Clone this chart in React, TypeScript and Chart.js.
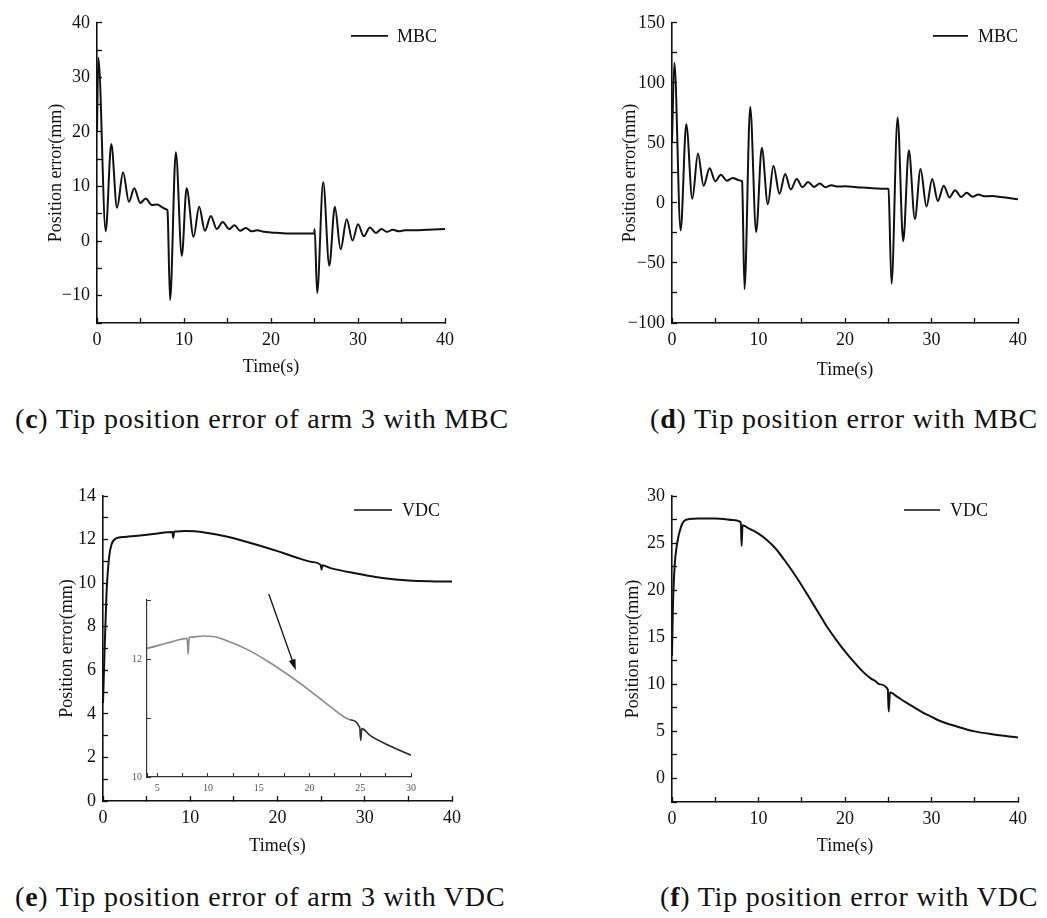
import React, { useEffect, useRef } from 'react';
import { Chart, registerables } from 'chart.js';

Chart.register(...registerables);

const FONT = "'Liberation Serif', 'Times New Roman', Times, serif";
const INK = '#111111';

// ---------- (c) Tip position error of arm 3 with MBC ----------
const cTime = [0, 0.15, 1.0, 1.64, 2.3, 3.0, 3.67, 4.28, 4.97, 5.6, 6.3, 6.9, 7.5, 8.0, 8.1, 8.4, 9.06, 9.75, 10.3, 11.1, 11.74, 12.4, 13.08, 13.77, 14.45, 15.18, 15.8, 16.45, 17.1, 17.8, 18.4, 19.2, 20, 22, 24.95, 25.02, 25.3, 26.0, 26.7, 27.34, 28.0, 28.7, 29.37, 30.0, 30.67, 31.36, 32.05, 32.7, 33.35, 34.0, 34.7, 35.4, 36.5, 38, 40];
const cError = [20, 33.6, 1.8, 17.8, 6.1, 12.6, 7.2, 9.7, 7.0, 7.8, 6.6, 6.7, 6.2, 5.8, 5.6, -10.8, 16.3, -2.7, 9.7, 0.8, 6.3, 1.9, 4.6, 2.2, 3.5, 2.2, 2.9, 1.9, 2.4, 1.8, 2.0, 1.7, 1.6, 1.4, 1.4, 2.2, -9.5, 10.8, -4.5, 6.3, -1.5, 4.0, 0.1, 3.1, 0.9, 2.5, 1.5, 2.2, 1.7, 2.1, 1.8, 2.0, 2.0, 2.1, 2.2];

// ---------- (d) Tip position error with MBC ----------
const dTime = [0, 0.27, 1.0, 1.65, 2.35, 3.0, 3.65, 4.35, 5.0, 5.65, 6.35, 7.0, 7.6, 8.0, 8.1, 8.38, 9.04, 9.73, 10.38, 11.08, 11.73, 12.42, 13.08, 13.73, 14.42, 15.08, 15.73, 16.42, 17.08, 17.77, 18.42, 19.2, 20, 22, 24.95, 25.02, 25.38, 26.08, 26.73, 27.38, 28.08, 28.73, 29.42, 30.08, 30.73, 31.42, 32.08, 32.73, 33.42, 34.08, 34.73, 35.42, 36.1, 37, 38, 40];
const dError = [50, 116.8, -22.9, 65.6, 3.5, 41.1, 14.4, 28.9, 18.0, 23.4, 18.5, 20.7, 19.3, 18.5, 18.0, -71.9, 79.8, -24.2, 46.0, -1.1, 31.0, 7.6, 24.0, 11.2, 19.9, 13.1, 17.4, 13.3, 16.1, 13.1, 14.7, 13.6, 13.9, 12.8, 11.7, 11.5, -67.3, 71.1, -31.9, 43.8, -13.3, 28.3, -3.0, 19.9, 1.6, 14.4, 4.6, 10.6, 4.9, 8.4, 5.2, 7.1, 5.6, 5.7, 5.0, 3.0];

// ---------- (e) Tip position error of arm 3 with VDC (also used by the inset) ----------
const eTime = [0, 0.15, 0.4, 0.7, 1.0, 1.5, 2.5, 4, 6, 7.95, 8.05, 8.15, 8.3, 9.5, 10.5, 12, 14, 16, 18, 20, 22, 24, 24.95, 25.05, 25.15, 26, 28, 30, 32, 35, 38, 40];
const eError = [4.5, 6.5, 9.5, 11.2, 11.8, 12.05, 12.12, 12.18, 12.27, 12.35, 12.08, 12.36, 12.37, 12.39, 12.38, 12.3, 12.15, 11.95, 11.72, 11.47, 11.2, 10.97, 10.84, 10.62, 10.82, 10.7, 10.52, 10.37, 10.24, 10.12, 10.08, 10.07];

// ---------- (f) Tip position error with VDC ----------
const fTime = [0, 0.1, 0.3, 0.6, 1.0, 1.35, 2, 3, 5, 6, 7, 7.95, 8.05, 8.15, 8.3, 9, 10, 11, 12, 13, 14, 15, 16, 17, 18, 19, 20, 21, 22, 23, 23.5, 24, 24.95, 25.05, 25.2, 26, 27, 28, 29, 30, 31, 33, 35, 37, 40];
const fError = [13, 18, 22.5, 25, 26.6, 27.3, 27.55, 27.6, 27.6, 27.55, 27.45, 27.2, 24.7, 26.9, 26.85, 26.5, 26.0, 25.3, 24.4, 23.2, 21.9, 20.5, 19.0, 17.5, 16.0, 14.7, 13.5, 12.4, 11.4, 10.6, 10.35, 10.0, 9.45, 7.1, 9.15, 8.7, 8.1, 7.55, 7.0, 6.55, 6.1, 5.5, 5.0, 4.7, 4.36];

// inset arrow (data coordinates of panel e)
const arrowFrom = [19, 9.5];
const arrowTo = [22.1, 6.0];

const legendMBC = 'MBC';
const legendVDC = 'VDC';
const xTitle = 'Time(s)';
const yTitle = 'Position error(mm)';

function fmt(v: number) {
  const r = Math.round(v * 1000) / 1000;
  return r < 0 ? '\u2212' + Math.abs(r) : String(r);
}
function majorLabel(major: number) {
  return (v: any) => {
    const n = Number(v);
    const q = n / major;
    return Math.abs(q - Math.round(q)) < 1e-6 ? fmt(n) : '';
  };
}

const lineLegend = {
  id: 'lineLegend',
  afterDraw(chart: any, _a: any, opts: any) {
    if (!opts || !opts.text) return;
    const { ctx, chartArea } = chart;
    const y = chartArea.top + opts.dy;
    ctx.save();
    ctx.strokeStyle = INK;
    ctx.lineWidth = 1.7;
    ctx.beginPath();
    ctx.moveTo(chartArea.right + opts.x1, y);
    ctx.lineTo(chartArea.right + opts.x2, y);
    ctx.stroke();
    ctx.fillStyle = INK;
    ctx.font = `18px ${FONT}`;
    ctx.textAlign = 'left';
    ctx.textBaseline = 'middle';
    ctx.fillText(opts.text, chartArea.right + opts.tx, y + 1);
    ctx.restore();
  },
};

const arrowPlugin = {
  id: 'arrow',
  afterDatasetsDraw(chart: any, _a: any, opts: any) {
    if (!opts || !opts.from) return;
    const xs = chart.scales.x;
    const ys = chart.scales.y;
    const x1 = xs.getPixelForValue(opts.from[0]);
    const y1 = ys.getPixelForValue(opts.from[1]);
    const x2 = xs.getPixelForValue(opts.to[0]);
    const y2 = ys.getPixelForValue(opts.to[1]);
    const ang = Math.atan2(y2 - y1, x2 - x1);
    const { ctx } = chart;
    ctx.save();
    ctx.strokeStyle = INK;
    ctx.fillStyle = INK;
    ctx.lineWidth = 1.3;
    ctx.beginPath();
    ctx.moveTo(x1, y1);
    ctx.lineTo(x2 - 8 * Math.cos(ang), y2 - 8 * Math.sin(ang));
    ctx.stroke();
    const L = 11, W = 3.5;
    ctx.beginPath();
    ctx.moveTo(x2, y2);
    ctx.lineTo(x2 - L * Math.cos(ang) + W * Math.sin(ang), y2 - L * Math.sin(ang) - W * Math.cos(ang));
    ctx.lineTo(x2 - L * Math.cos(ang) - W * Math.sin(ang), y2 - L * Math.sin(ang) + W * Math.cos(ang));
    ctx.closePath();
    ctx.fill();
    ctx.restore();
  },
};

function makeScale(a: any) {
  return {
    type: 'linear',
    min: a.min,
    max: a.max,
    afterFit: (s: any) => {
      if (a.width != null) s.width = a.width;
      if (a.height != null) s.height = a.height;
    },
    ticks: {
      stepSize: a.step,
      autoSkip: false,
      maxRotation: 0,
      minRotation: 0,
      padding: a.pad,
      color: a.color || INK,
      font: { family: FONT, size: a.fontSize || 18 },
      callback: majorLabel(a.major),
    },
    grid: {
      display: true,
      drawOnChartArea: false,
      drawTicks: true,
      tickLength: a.tickLen ?? -5,
      tickColor: a.lineColor || INK,
      tickWidth: a.tickWidth ?? 1.3,
    },
    border: { display: true, color: a.lineColor || INK, width: a.borderWidth ?? 1.6 },
    title: a.title
      ? { display: true, text: a.title, color: INK, font: { family: FONT, size: 18 }, padding: 0 }
      : { display: false },
  };
}

function makeConfig(p: any) {
  return {
    type: 'line',
    data: {
      datasets: [
        {
          data: p.xs.map((x: number, i: number) => ({ x, y: p.ys[i] })),
          borderColor: p.color || INK,
          borderWidth: p.lw ?? 2,
          pointRadius: 0,
          fill: false,
          cubicInterpolationMode: 'monotone',
          segment: p.segment,
        },
      ],
    },
    options: {
      animation: false,
      responsive: false,
      maintainAspectRatio: false,
      events: [],
      layout: { padding: p.padding },
      plugins: {
        legend: { display: false },
        tooltip: { enabled: false },
        lineLegend: p.legend || {},
        arrow: p.arrow || {},
      },
      scales: { x: makeScale(p.x), y: makeScale(p.y) },
    },
    plugins: [lineLegend, arrowPlugin],
  };
}

const timeAxis = { min: 0, max: 40, step: 5, major: 10, pad: 11, title: xTitle };

const panelC = makeConfig({
  xs: cTime, ys: cError,
  padding: { left: 45, top: 17, right: 75, bottom: 2 },
  x: { ...timeAxis, height: 55 },
  y: { min: -15, max: 40, step: 5, major: 10, pad: 12, width: 52, title: yTitle },
  legend: { text: legendMBC, x1: -94, x2: -57, tx: -48, dy: 13 },
});

const panelD = makeConfig({
  xs: dTime, ys: dError,
  padding: { left: 99, top: 17, right: 29, bottom: 4 },
  x: { ...timeAxis, height: 58 },
  y: { min: -100, max: 150, step: 25, major: 50, pad: 12, width: 53, title: yTitle },
  legend: { text: legendMBC, x1: -85, x2: -50, tx: -40, dy: 13 },
});

const panelE = makeConfig({
  xs: eTime, ys: eError,
  padding: { left: 56, top: 46, right: 68, bottom: 3 },
  x: { ...timeAxis, height: 56 },
  y: { min: 0, max: 14, step: 1, major: 2, pad: 12, width: 47, title: yTitle },
  legend: { text: legendVDC, x1: -98, x2: -60, tx: -50, dy: 14 },
  arrow: { from: arrowFrom, to: arrowTo },
});

const panelInset = makeConfig({
  xs: eTime, ys: eError,
  lw: 1.6,
  color: '#8a8a8a',
  segment: { borderColor: (ctx: any) => (ctx.p0.parsed.x >= 24 ? '#2a2a2a' : '#8a8a8a') },
  padding: { left: 0, top: 13, right: 11, bottom: 0 },
  x: { min: 4, max: 30, step: 2.5, major: 5, pad: 9, height: 33, fontSize: 10, color: '#555', lineColor: '#333', tickLen: -4, tickWidth: 1, borderWidth: 1.2 },
  y: { min: 10, max: 13, step: 1, major: 2, pad: 9, width: 42, fontSize: 10, color: '#555', lineColor: '#333', tickLen: -4, tickWidth: 1, borderWidth: 1.2 },
});

const panelF = makeConfig({
  xs: fTime, ys: fError,
  padding: { left: 102, top: 46, right: 29, bottom: 3 },
  x: { ...timeAxis, height: 55 },
  y: { min: -2.5, max: 30, step: 2.5, major: 5, pad: 12, width: 50, title: yTitle },
  legend: { text: legendVDC, x1: -114, x2: -78, tx: -68, dy: 14 },
});

function ChartBox({ config, left, top, width, height }: any) {
  const ref = useRef<HTMLCanvasElement>(null);
  useEffect(() => {
    const chart = new Chart(ref.current as HTMLCanvasElement, config as any);
    return () => chart.destroy();
  }, [config]);
  return (
    <canvas
      ref={ref}
      width={width}
      height={height}
      style={{ position: 'absolute', left, top, width, height }}
    />
  );
}

const captionStyle: any = {
  position: 'absolute',
  fontFamily: FONT,
  fontSize: 28,
  lineHeight: '28px',
  letterSpacing: '0.8px',
  color: INK,
  whiteSpace: 'nowrap',
};

export default function App() {
  return (
    <div style={{ position: 'absolute', left: 0, top: 0, width: 1047, height: 918, background: '#fff', overflow: 'hidden' }}>
      <ChartBox config={panelC} left={0} top={0} width={520} height={380} />
      <ChartBox config={panelD} left={520} top={0} width={527} height={385} />
      <ChartBox config={panelE} left={0} top={450} width={520} height={410} />
      <ChartBox config={panelInset} left={105} top={585} width={320} height={225} />
      <ChartBox config={panelF} left={520} top={450} width={527} height={410} />
      <div style={{ ...captionStyle, left: 15, top: 405 }}>(<b>c</b>) Tip position error of arm 3 with MBC</div>
      <div style={{ ...captionStyle, left: 650, top: 405 }}>(<b>d</b>) Tip position error with MBC</div>
      <div style={{ ...captionStyle, left: 15, top: 883 }}>(<b>e</b>) Tip position error of arm 3 with VDC</div>
      <div style={{ ...captionStyle, left: 660, top: 883 }}>(<b>f</b>) Tip position error with VDC</div>
    </div>
  );
}
